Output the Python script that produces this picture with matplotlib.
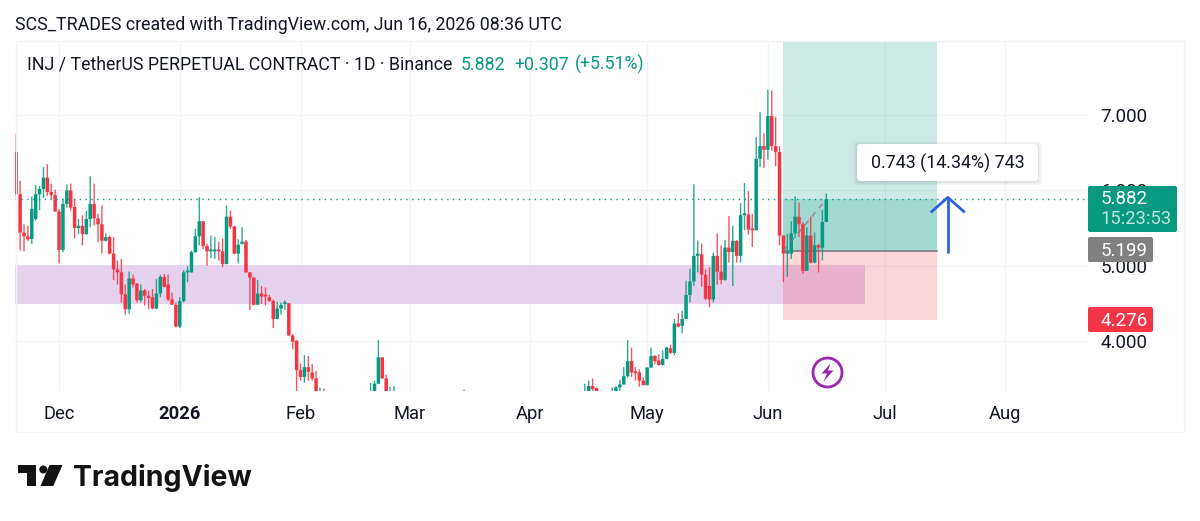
import matplotlib
matplotlib.use('Agg')
import matplotlib.pyplot as plt
import matplotlib.dates as mdates
from matplotlib.patches import FancyBboxPatch, Polygon, Circle, Rectangle
import pandas as pd

plt.rcParams['font.family'] = ['Roboto', 'DejaVu Sans']

GREEN = '#089981'
RED = '#F23645'
INK = '#131722'
GRID = '#F3F4F6'

# daily bars, Nov 20 2025 to Jun 16 2026 (values under the visible range are guesses)
dates = pd.date_range('2025-11-20', '2026-06-16', freq='D')

opens = [6.51, 5.95, 5.44, 5.39, 5.355, 5.62, 5.95, 6.02, 6.17, 5.98,
         5.94, 5.72, 5.21, 5.82, 6.00, 5.78, 5.50, 5.53, 5.42, 5.62,
         5.82, 5.63, 5.55, 5.33, 5.38, 5.16, 4.95, 4.91, 4.62, 4.42,
         4.83, 4.76, 4.54, 4.67, 4.60, 4.58, 4.43, 4.63, 4.85, 4.75,
         4.55, 4.48, 4.19, 4.53, 4.91, 4.91, 5.18, 5.39, 5.59, 5.26,
         5.19, 5.19, 5.21, 5.19, 5.02, 5.65, 5.52, 5.16, 5.29, 5.32,
         4.91, 4.84, 4.48, 4.63, 4.60, 4.58, 4.53, 4.29, 4.43, 4.49,
         4.50, 4.07, 4.00, 3.61, 3.52, 3.65, 3.58, 3.50, 3.20, 3.25,
         3.20, 3.15, 3.12, 3.10, 3.08, 3.05, 3.05, 3.08, 3.10, 3.12,
         3.15, 3.25, 3.30, 3.43, 3.78, 3.50, 3.25, 3.25,
         3.25, 3.22, 3.20, 3.18, 3.15, 3.12, 3.10, 3.05, 3.00, 2.95,
         2.90, 2.85, 2.80, 2.80, 2.85, 2.90, 3.00, 3.05, 3.00, 2.95,
         2.90, 2.85, 2.85, 2.90, 2.90, 2.95, 3.00, 3.00, 3.05, 3.00,
         2.95, 2.95, 3.00, 3.00, 3.05, 3.05, 3.10, 3.10, 3.05, 3.05,
         3.10, 3.10, 3.15, 3.15, 3.20, 3.20, 3.22, 3.25,
         3.25, 3.30, 3.40, 3.37, 3.28, 3.28, 3.28, 3.25, 3.28, 3.38,
         3.42, 3.53, 3.73, 3.58, 3.58, 3.47, 3.41, 3.645, 3.80, 3.74,
         3.68, 3.76, 3.90, 3.84, 4.23, 4.20, 4.29, 4.61, 4.79, 5.13,
         5.15, 4.88, 4.73, 4.55, 5.13, 4.92, 4.81, 5.24, 5.18, 5.33,
         5.13, 5.67, 5.68, 5.48, 5.47, 6.42, 6.59, 6.54, 6.99, 6.59,
         6.51, 5.40, 5.16, 5.16, 5.43, 5.65, 5.55, 4.93, 5.40, 5.04,
         5.27, 5.24, 5.58]
closes = [5.95, 5.44, 5.39, 5.35, 5.755, 5.95, 6.02, 6.17, 5.98, 5.94,
          5.72, 5.21, 5.82, 6.00, 5.77, 5.50, 5.53, 5.42, 5.62, 5.82,
          5.63, 5.55, 5.33, 5.38, 5.16, 4.95, 4.91, 4.62, 4.42, 4.83,
          4.75, 4.54, 4.67, 4.60, 4.57, 4.43, 4.63, 4.85, 4.72, 4.55,
          4.48, 4.19, 4.53, 4.91, 4.91, 5.18, 5.39, 5.59, 5.26, 5.19,
          5.21, 5.21, 5.19, 5.02, 5.65, 5.52, 5.16, 5.28, 5.32, 4.91,
          4.84, 4.48, 4.63, 4.59, 4.59, 4.53, 4.29, 4.43, 4.48, 4.50,
          4.07, 3.99, 3.61, 3.52, 3.65, 3.59, 3.50, 3.20, 3.25, 3.20,
          3.15, 3.12, 3.10, 3.08, 3.05, 3.05, 3.08, 3.10, 3.12, 3.15,
          3.25, 3.30, 3.43, 3.78, 3.50, 3.25, 3.25, 3.30,
          3.22, 3.20, 3.18, 3.15, 3.12, 3.10, 3.05, 3.00, 2.95, 2.90,
          2.85, 2.80, 2.80, 2.85, 2.90, 3.00, 3.05, 3.00, 2.95, 2.90,
          2.85, 2.85, 2.90, 2.90, 2.95, 3.00, 3.00, 3.05, 3.00, 2.95,
          2.95, 3.00, 3.00, 3.05, 3.05, 3.10, 3.10, 3.05, 3.05, 3.10,
          3.10, 3.15, 3.15, 3.20, 3.20, 3.22, 3.25, 3.25,
          3.30, 3.40, 3.36, 3.30, 3.28, 3.28, 3.25, 3.28, 3.38, 3.42,
          3.53, 3.73, 3.58, 3.57, 3.47, 3.41, 3.645, 3.80, 3.73, 3.68,
          3.76, 3.91, 3.84, 4.23, 4.19, 4.29, 4.61, 4.79, 5.13, 5.16,
          4.88, 4.56, 4.55, 5.13, 4.92, 4.81, 5.24, 5.18, 5.33, 5.13,
          5.67, 5.69, 5.48, 5.47, 6.42, 6.59, 6.54, 6.99, 6.59, 6.51,
          5.40, 5.16, 5.17, 5.43, 5.65, 5.55, 4.93, 5.40, 5.04, 5.27,
          5.24, 5.58, 5.882]
highs = [6.76, 6.13, 5.55, 5.53, 5.92, 6.07, 6.06, 6.31, 6.35, 6.09,
         6.01, 5.755, 5.89, 6.08, 6.09, 5.89, 5.62, 5.67, 5.73, 6.19,
         6.09, 5.69, 5.80, 5.43, 5.40, 5.38, 5.07, 5.09, 4.75, 4.92,
         4.88, 4.77, 4.75, 4.69, 4.67, 4.69, 4.82, 4.88, 4.89, 4.88,
         4.64, 4.51, 4.58, 4.94, 4.99, 5.20, 5.49, 5.91, 5.59, 5.29,
         5.40, 5.38, 5.32, 5.36, 5.80, 5.73, 5.53, 5.35, 5.51, 5.34,
         4.91, 4.85, 4.81, 4.73, 4.71, 4.61, 4.55, 4.52, 4.51, 4.54,
         4.50, 4.09, 4.01, 3.70, 3.81, 3.80, 3.69, 3.60, 3.38, 3.37,
         3.22, 3.18, 3.15, 3.12, 3.10, 3.08, 3.10, 3.12, 3.15, 3.18,
         3.28, 3.44, 3.47, 4.01, 3.78, 3.55, 3.39, 3.40,
         3.26, 3.23, 3.22, 3.20, 3.17, 3.14, 3.12, 3.08, 3.03, 2.98,
         2.92, 2.88, 2.83, 2.87, 2.93, 3.03, 3.08, 3.35, 3.02, 2.97,
         2.92, 2.88, 2.92, 2.93, 2.98, 3.02, 3.03, 3.07, 3.06, 3.02,
         2.98, 3.02, 3.03, 3.07, 3.08, 3.12, 3.13, 3.12, 3.08, 3.12,
         3.13, 3.17, 3.18, 3.22, 3.23, 3.24, 3.28, 3.30,
         3.43, 3.47, 3.50, 3.38, 3.34, 3.33, 3.33, 3.38, 3.40, 3.48,
         3.65, 4.01, 3.91, 3.65, 3.62, 3.51, 3.65, 3.91, 3.81, 3.82,
         3.87, 3.92, 3.95, 4.29, 4.37, 4.40, 4.80, 4.96, 6.08, 5.33,
         5.29, 4.95, 4.98, 5.17, 5.43, 5.27, 5.34, 5.66, 5.53, 5.34,
         5.83, 6.10, 5.99, 5.69, 6.71, 7.04, 6.76, 7.34, 7.33, 6.98,
         6.59, 5.40, 5.42, 5.59, 5.92, 5.84, 5.58, 5.51, 5.65, 5.44,
         5.29, 5.74, 5.96]
lows = [5.91, 5.20, 5.19, 5.33, 5.29, 5.60, 5.74, 5.90, 5.93, 5.88,
        5.72, 5.03, 5.18, 5.77, 5.73, 5.36, 5.42, 5.27, 5.41, 5.51,
        5.53, 5.31, 5.16, 5.32, 5.15, 4.81, 4.75, 4.51, 4.35, 4.36,
        4.71, 4.51, 4.51, 4.47, 4.42, 4.42, 4.42, 4.58, 4.71, 4.53,
        4.48, 4.18, 4.17, 4.51, 4.78, 4.91, 5.17, 5.27, 5.22, 5.00,
        5.10, 5.09, 5.07, 4.98, 5.02, 5.49, 5.15, 5.03, 5.28, 4.91,
        4.41, 4.47, 4.48, 4.49, 4.47, 4.52, 4.17, 4.29, 4.35, 4.41,
        4.07, 3.89, 3.30, 3.47, 3.44, 3.47, 3.47, 3.15, 3.10, 3.15,
        3.10, 3.08, 3.05, 3.03, 3.00, 3.00, 3.02, 3.05, 3.07, 3.10,
        3.12, 3.20, 3.25, 3.43, 3.50, 3.20, 3.20, 3.20,
        3.18, 3.15, 3.13, 3.10, 3.08, 3.05, 3.00, 2.95, 2.90, 2.85,
        2.80, 2.76, 2.75, 2.78, 2.85, 2.88, 2.98, 2.95, 2.92, 2.87,
        2.82, 2.80, 2.83, 2.87, 2.88, 2.92, 2.97, 2.97, 2.97, 2.92,
        2.92, 2.93, 2.97, 2.98, 3.02, 3.03, 3.03, 3.02, 3.02, 3.03,
        3.07, 3.08, 3.12, 3.12, 3.17, 3.18, 3.20, 3.20,
        3.20, 3.25, 3.33, 3.25, 3.22, 3.22, 3.22, 3.20, 3.25, 3.33,
        3.42, 3.51, 3.52, 3.47, 3.39, 3.41, 3.41, 3.64, 3.69, 3.67,
        3.67, 3.76, 3.83, 3.81, 4.18, 4.10, 4.29, 4.51, 4.73, 4.91,
        4.72, 4.54, 4.45, 4.51, 4.75, 4.75, 4.80, 5.04, 4.73, 5.04,
        5.04, 5.47, 5.41, 5.25, 5.47, 6.31, 6.30, 6.41, 6.53, 6.32,
        5.27, 4.78, 4.85, 5.09, 5.37, 5.38, 4.89, 4.93, 5.03, 5.03,
        4.91, 5.07, 5.58]

y_ticks = [4, 5, 6, 7]
y_tick_labels = ['4.000', '5.000', '6.000', '7.000']
month_ticks = ['2025-12-01', '2026-01-01', '2026-02-01', '2026-03-01', '2026-04-01',
               '2026-05-01', '2026-06-01', '2026-07-01', '2026-08-01']
month_labels = ['Dec', '2026', 'Feb', 'Mar', 'Apr', 'May', 'Jun', 'Jul', 'Aug']

last_price = 5.882
entry_price = 5.199
stop_price = 4.276
target_price = 9.0
zone_low, zone_high = 4.493, 5.013

fig = plt.figure(figsize=(12, 5.21), dpi=100, facecolor='white')
# pane is x 15-1088, y 41-391 in pixels
ax = fig.add_axes([15 / 1200, 1 - 391 / 521, (1088 - 15) / 1200, 350 / 521])
for s in ax.spines.values():
    s.set_visible(False)

day0 = mdates.date2num(dates[0])
x = mdates.date2num(dates)
ax.set_xlim(day0 - 0.31, day0 + 275.2)
ax.set_ylim(3.333, 7.987)

# grid
for t in month_ticks:
    ax.axvline(mdates.date2num(pd.Timestamp(t)), color=GRID, lw=1, zorder=0)
for v in y_ticks:
    ax.axhline(v, color=GRID, lw=1, zorder=0)

# supply/demand zone and long position
pos_left = day0 + 197.0
pos_right = day0 + 236.3
ax.axhspan(zone_low, zone_high, xmin=0, xmax=(865 - 15) / 1073, color='#E3CBEC', alpha=0.85, lw=0, zorder=1)
ax.fill_between([pos_left, pos_right], entry_price, target_price, color=GREEN, alpha=0.2, lw=0, zorder=1.5)
ax.fill_between([pos_left, pos_right], stop_price, entry_price, color=RED, alpha=0.2, lw=0, zorder=1.5)
ax.fill_between([pos_left, pos_right], entry_price, last_price, color=GREEN, alpha=0.22, lw=0, zorder=1.6)
ax.plot([pos_left, pos_right], [entry_price, entry_price], color='#787B86', lw=1.2, zorder=1.7)

# candles, snapping off so the bodies keep their width
for i in range(len(dates)):
    c = GREEN if closes[i] >= opens[i] else RED
    ax.vlines(x[i], lows[i], highs[i], color=c, lw=1.0, alpha=0.85, zorder=2, snap=False)
    ax.add_patch(Rectangle((x[i] - 0.45, min(opens[i], closes[i])), 0.9,
                           max(abs(closes[i] - opens[i]), 0.025), fc=c, ec='none', zorder=2.2, snap=False))

ax.plot([pos_left, x[-1]], [entry_price, last_price], color='#787B86', lw=1, ls=(0, (4, 4)), alpha=0.8, zorder=2.5)
ax.axhline(last_price, color=GREEN, lw=1, ls=(0, (1, 3.2)), zorder=2.6)

# hand drawn arrow
arrow_x = day0 + 239.2
ax.plot([arrow_x, arrow_x], [5.173, 5.907], color='#2B63DC', lw=2, zorder=4, solid_capstyle='butt')
ax.plot([arrow_x - 4.1, arrow_x, arrow_x + 4.1], [5.72, 5.907, 5.72], color='#2B63DC', lw=2, zorder=4)

ax.yaxis.tick_right()
ax.set_yticks(y_ticks)
ax.set_yticklabels(y_tick_labels, fontsize=13.5, color=INK)
ax.set_xticks([mdates.date2num(pd.Timestamp(t)) for t in month_ticks])
ax.set_xticklabels(month_labels, fontsize=13.2, color=INK)
ax.get_xticklabels()[1].set_fontweight('bold')
ax.tick_params(axis='both', length=0)
ax.tick_params(axis='x', pad=10)
ax.tick_params(axis='y', pad=9)

# overlay in pixel coordinates for the chrome
ov = fig.add_axes([0, 0, 1, 1], facecolor='none')
ov.set_xlim(0, 1200)
ov.set_ylim(521, 0)
ov.axis('off')

ov.add_patch(Rectangle((15.5, 41), 1168, 390.5, fill=False, ec=GRID, lw=1))

ov.text(15, 24.5, 'SCS_TRADES created with TradingView.com, Jun 16, 2026 08:36 UTC',
        fontsize=12.76, color=INK, va='center')
ov.text(27, 64.5, 'INJ / TetherUS PERPETUAL CONTRACT · 1D · Binance', fontsize=12.76, color=INK, va='center')
ov.text(461, 64.5, '5.882', fontsize=12.76, color=GREEN, va='center')
ov.text(514, 64.5, '+0.307', fontsize=12.76, color=GREEN, va='center')
ov.text(575, 64.5, '(+5.51%)', fontsize=12.76, color=GREEN, va='center')

# price labels
def price_box(x0, y0, w, h, col):
    ov.add_patch(FancyBboxPatch((x0 + 2, y0 + 2), w - 4, h - 4, boxstyle='round,pad=2', fc=col, ec='none'))

price_box(1088, 186, 89, 46, GREEN)
ov.text(1101, 199.5, '5.882', fontsize=13.5, color='white', va='center')
ov.text(1101, 219.5, '15:23:53', fontsize=13.2, color='#BFE5DE', va='center')
price_box(1088, 237, 65, 25, '#808080')
ov.text(1101, 250.5, '5.199', fontsize=13.5, color='white', va='center')
price_box(1088, 307, 65, 25, RED)
ov.text(1101, 320.5, '4.276', fontsize=13.5, color='white', va='center')

# tooltip
for grow, a in [(4, 0.015), (3, 0.02), (2, 0.03), (1, 0.04)]:
    ov.add_patch(FancyBboxPatch((861 - grow, 148 - grow + 1), 173 + 2 * grow, 29 + 2 * grow,
                                boxstyle='round,pad=4', fc='black', ec='none', alpha=a))
ov.add_patch(FancyBboxPatch((861, 148), 173, 29, boxstyle='round,pad=4', fc='white', ec='none'))
ov.text(948, 163.5, '0.743 (14.34%) 743', fontsize=12.9, color=INK, ha='center', va='center')

# lightning badge
ov.add_patch(Circle((827.5, 372.5), 14.5, fill=False, ec='#9C27B0', lw=2))
ov.add_patch(Polygon([(830.5, 363.5), (821.5, 373.5), (827, 373.5), (823.5, 381.5), (833.5, 370.5), (828, 370.5)],
                     fc='#9C27B0', ec='none'))

# TradingView logo
ov.add_patch(Polygon([(18.3, 465), (36, 465), (36, 486), (26.7, 486), (26.7, 473.3), (18.3, 473.3)], fc='#131313', ec='none'))
ov.add_patch(Circle((43.3, 469.5), 4, fc='#131313', ec='none'))
ov.add_patch(Polygon([(49.5, 465), (62.5, 465), (53.3, 486), (40.5, 486)], fc='#131313', ec='none'))
ov.text(73, 486, 'TradingView', fontsize=20.5, color='#131313', fontweight='bold', family='Inter', va='baseline')

fig.savefig('out.png', dpi=100)
